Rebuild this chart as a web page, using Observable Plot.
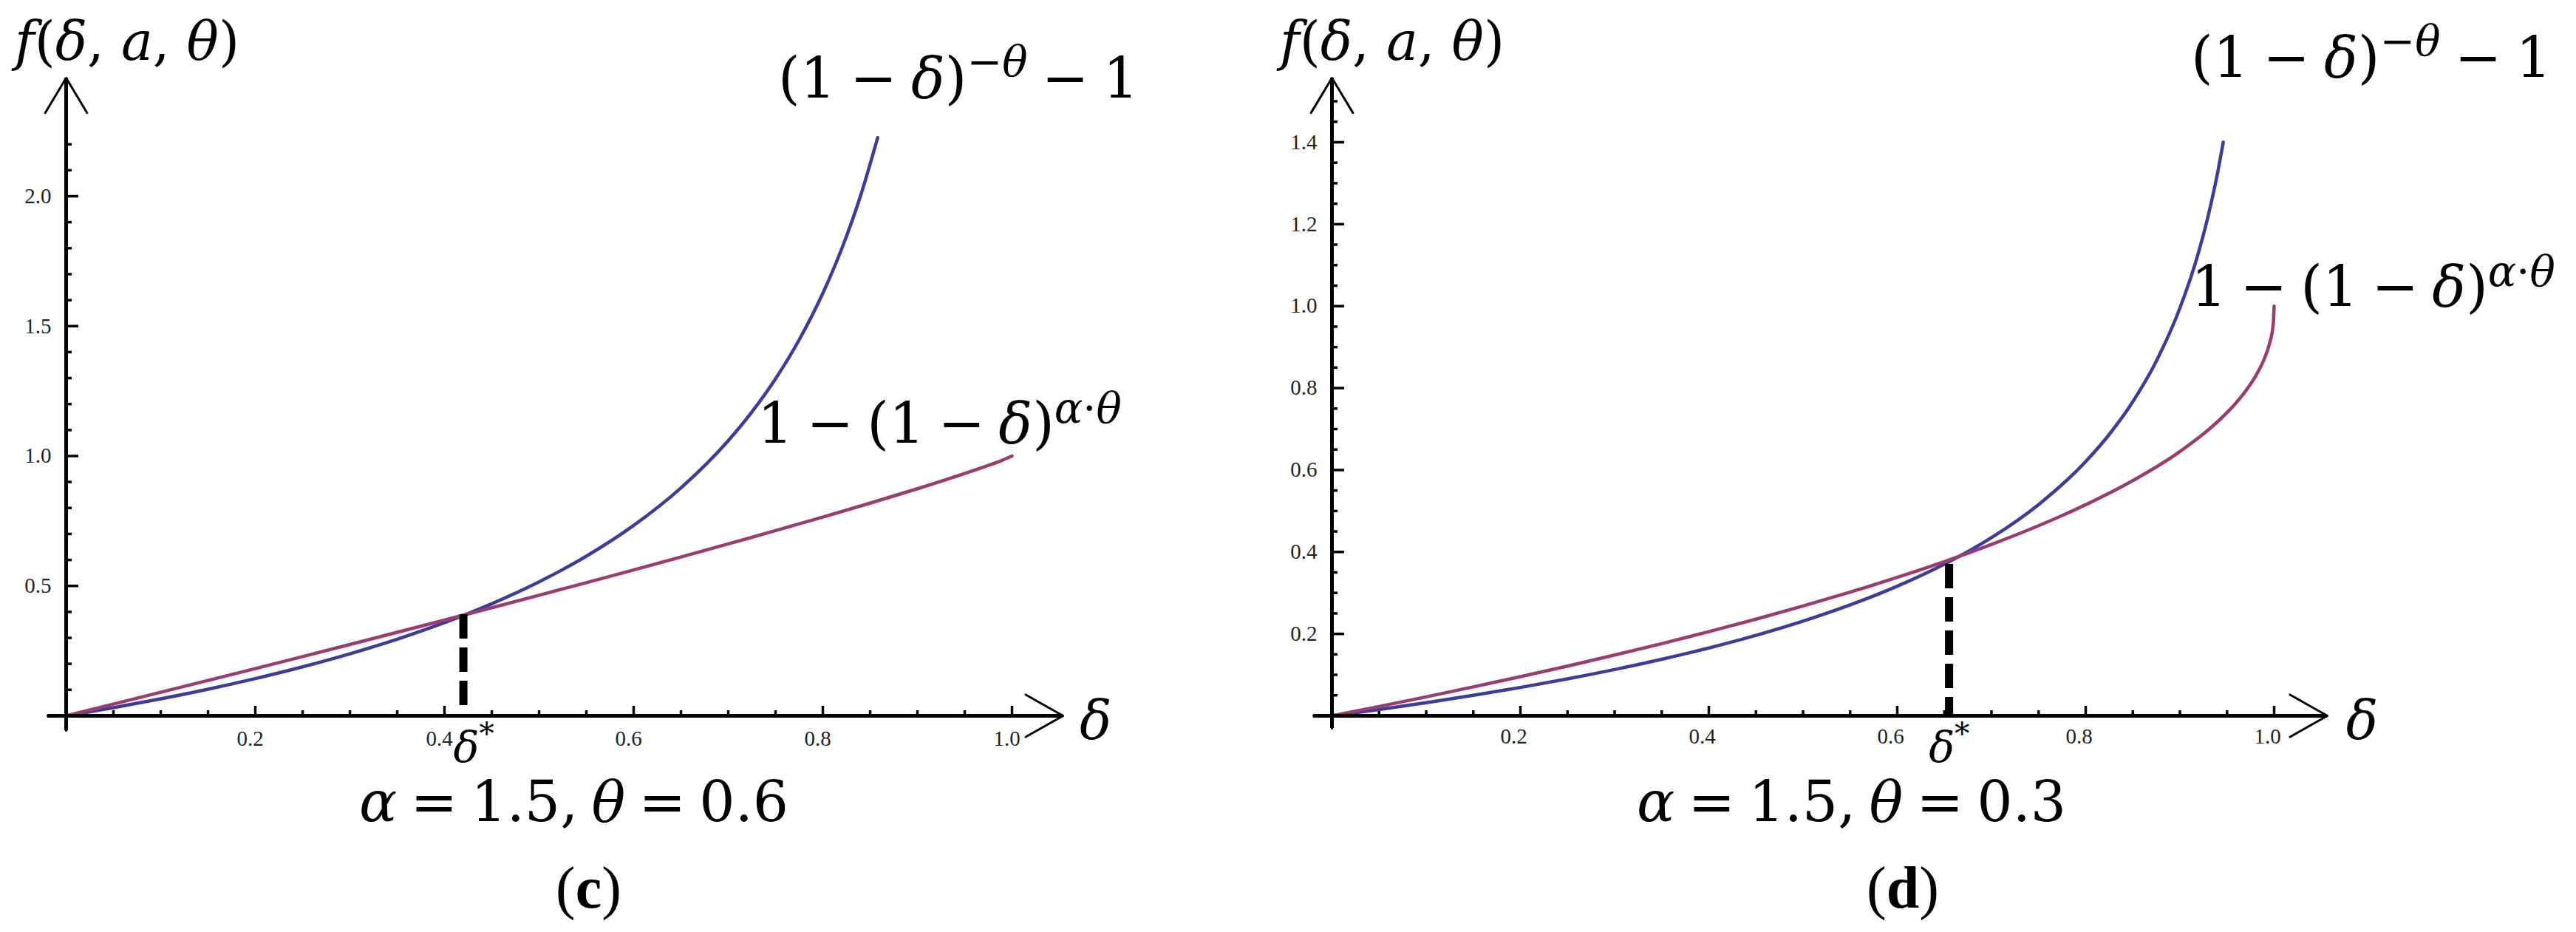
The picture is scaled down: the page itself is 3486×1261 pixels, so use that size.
<!DOCTYPE html>
<html>
<head>
<meta charset="utf-8">
<script src="https://cdn.jsdelivr.net/npm/d3@7"></script>
<script src="https://cdn.jsdelivr.net/npm/@observablehq/plot@0.6"></script>
<style>
  html, body { margin: 0; padding: 0; background: #fff; }
  #root { position: relative; width: 3486px; height: 1261px; overflow: hidden; background: #fff; }
  .panel { position: absolute; top: 0; }
  #overlay { position: absolute; left: 0; top: 0; pointer-events: none; }
</style>
</head>
<body>
<div id="root"></div>
<script>
// ---------------- data ----------------
// panel (c): alpha = 1.5, theta = 0.6
const cBlueDelta = [0, 0.05, 0.1, 0.15, 0.2, 0.25, 0.3, 0.35, 0.4, 0.45, 0.5, 0.55, 0.6, 0.65, 0.7, 0.725, 0.75, 0.775, 0.8, 0.82, 0.84, 0.858];
const cBlueValue = [0, 0.0313, 0.0653, 0.1024, 0.1433, 0.1884, 0.2386, 0.2949, 0.3587, 0.4315, 0.5157, 0.6146, 0.7328, 0.8774, 1.0593, 1.1697, 1.2974, 1.4474, 1.6265, 1.7979, 2.0028, 2.2257];
const cPurpleDelta = [0, 0.05, 0.1, 0.15, 0.2, 0.25, 0.3, 0.35, 0.4, 0.45, 0.5, 0.55, 0.6, 0.65, 0.7, 0.75, 0.8, 0.85, 0.9, 0.95, 0.975, 0.99, 1];
const cPurpleValue = [0, 0.0451, 0.0905, 0.1361, 0.1819, 0.2281, 0.2746, 0.3214, 0.3685, 0.4161, 0.4641, 0.5126, 0.5616, 0.6113, 0.6616, 0.7128, 0.7651, 0.8187, 0.8741, 0.9325, 0.9638, 0.9842, 1];
const cStar = 0.42;
const cStarTop = 0.39;

// panel (d): alpha = 1.5, theta = 0.3
const dBlueDelta = [0, 0.05, 0.1, 0.15, 0.2, 0.25, 0.3, 0.35, 0.4, 0.45, 0.5, 0.55, 0.6, 0.65, 0.7, 0.75, 0.8, 0.825, 0.85, 0.875, 0.9, 0.92, 0.93, 0.94, 0.946];
const dBlueValue = [0, 0.0155, 0.0321, 0.0500, 0.0692, 0.0901, 0.1129, 0.1380, 0.1656, 0.1964, 0.2311, 0.2707, 0.3164, 0.3702, 0.4350, 0.5157, 0.6207, 0.6869, 0.7667, 0.8661, 0.9953, 1.1334, 1.2206, 1.3257, 1.4004];
const dPurpleDelta = [0, 0.05, 0.1, 0.15, 0.2, 0.25, 0.3, 0.35, 0.4, 0.45, 0.5, 0.55, 0.6, 0.65, 0.7, 0.75, 0.8, 0.85, 0.9, 0.95, 0.96, 0.97, 0.98, 0.99, 0.995, 0.999, 1];
const dPurpleValue = [0, 0.0228, 0.0463, 0.0705, 0.0955, 0.1214, 0.1483, 0.1762, 0.2054, 0.2359, 0.2680, 0.3019, 0.3379, 0.3765, 0.4183, 0.4641, 0.5153, 0.5741, 0.6452, 0.7403, 0.7651, 0.7936, 0.8280, 0.8741, 0.9078, 0.9553, 1];
const dStar = 0.655;
const dStarTop = 0.37;

// ticks
const xMajor = [0.2, 0.4, 0.6, 0.8, 1.0];
const xMinor = [0.05, 0.1, 0.15, 0.25, 0.3, 0.35, 0.45, 0.5, 0.55, 0.65, 0.7, 0.75, 0.85, 0.9, 0.95];
const cYMajor = [0.5, 1.0, 1.5, 2.0];
const cYMinor = [0.1, 0.2, 0.3, 0.4, 0.6, 0.7, 0.8, 0.9, 1.1, 1.2, 1.3, 1.4, 1.6, 1.7, 1.8, 1.9, 2.1, 2.2];
const dYMajor = [0.2, 0.4, 0.6, 0.8, 1.0, 1.2, 1.4];
const dYMinor = [0.05, 0.1, 0.15, 0.25, 0.3, 0.35, 0.45, 0.5, 0.55, 0.65, 0.7, 0.75, 0.85, 0.9, 0.95, 1.05, 1.1, 1.15, 1.25, 1.3, 1.35, 1.45, 1.5];

const BLUE = "#3d3d99";
const PURPLE = "#993d71";
const SERIF = "Liberation Serif, serif";
const MATH = "DejaVu Serif, serif";

// ---------------- panels ----------------
function makePanel(cfg) {
  const blue = cfg.blueDelta.map((d, i) => ({d, v: cfg.blueValue[i]}));
  const purple = cfg.purpleDelta.map((d, i) => ({d, v: cfg.purpleValue[i]}));
  const W = 1743, H = 1040, MB = 72;
  const kx = (W - cfg.ml - cfg.mr);                 // px per x unit
  const ky = (H - MB - cfg.mt) / cfg.yDomain[1];    // px per y unit
  const fmt = d => d.toFixed(1);
  return Plot.plot({
    width: W, height: H,
    marginLeft: cfg.ml, marginRight: cfg.mr, marginTop: cfg.mt, marginBottom: MB,
    x: {domain: [0, 1], axis: null},
    y: {domain: cfg.yDomain, axis: null},
    style: {background: "transparent", overflow: "visible"},
    marks: [
      // ticks
      Plot.ruleX(xMinor, {x: d => d, y1: 0, y2: 7 / ky, stroke: "#000", strokeWidth: 3.5}),
      Plot.ruleX(xMajor, {x: d => d, y1: 0, y2: 13 / ky, stroke: "#000", strokeWidth: 3.5}),
      Plot.ruleY(cfg.yMinor, {y: d => d, x1: 0, x2: 8 / kx, stroke: "#000", strokeWidth: 3.5}),
      Plot.ruleY(cfg.yMajor, {y: d => d, x1: 0, x2: 17 / kx, stroke: "#000", strokeWidth: 3.5}),
      // curves
      Plot.line(blue, {x: "d", y: "v", stroke: BLUE, strokeWidth: 4.5, curve: "monotone-x"}),
      Plot.line(purple, {x: "d", y: "v", stroke: PURPLE, strokeWidth: 4.5, curve: "monotone-x"}),
      // delta* dashed rule
      Plot.ruleX([cfg.star], {x: d => d, y1: cfg.starTop, y2: 0, stroke: "#000", strokeWidth: 11, strokeDasharray: "33,12"}),
      // axes
      Plot.ruleY([0], {x1: -25 / kx, x2: cfg.xApex, stroke: "#000", strokeWidth: 5}),
      Plot.ruleX([0], {y1: -cfg.yBelow / ky, y2: cfg.yApex, stroke: "#000", strokeWidth: 5}),
      Plot.arrow([0], {x1: -25 / kx, y1: 0, x2: cfg.xApex, y2: 0, stroke: "#000", strokeWidth: 3, headLength: 29, headAngle: 59}),
      Plot.arrow([0], {x1: 0, y1: -cfg.yBelow / ky, x2: 0, y2: cfg.yApex, stroke: "#000", strokeWidth: 3, headLength: 27.5, headAngle: 62}),
      // tick labels
      Plot.text(xMajor, {x: d => d, y: 0, text: fmt, dy: cfg.xLabDy, dx: cfg.xLabDx, fontSize: 29, fontFamily: SERIF, fill: "#222"}),
      Plot.text(cfg.yMajor, {x: 0, y: d => d, text: fmt, textAnchor: "end", dx: -20, fontSize: 29, fontFamily: SERIF, fill: "#222"}),
      // axis name delta
      Plot.text([cfg.xApex], {x: d => d, y: 0, text: () => "δ", dx: cfg.dlx, dy: 8, fontSize: 72, fontStyle: "italic", fontFamily: MATH, fill: "#000"})
    ]
  });
}

const root = document.getElementById("root");

const pc = makePanel({
  blueDelta: cBlueDelta, blueValue: cBlueValue, purpleDelta: cPurpleDelta, purpleValue: cPurpleValue,
  star: cStar, starTop: cStarTop, yDomain: [0, 2], yMajor: cYMajor, yMinor: cYMinor,
  ml: 89, mr: 374, mt: 265, xApex: 1.054, yApex: 2.455, yBelow: 20,
  xLabDy: 31, xLabDx: -7, dlx: 44
});
const pd = makePanel({
  blueDelta: dBlueDelta, blueValue: dBlueValue, purpleDelta: dPurpleDelta, purpleValue: dPurpleValue,
  star: dStar, starTop: dStarTop, yDomain: [0, 1.4], yMajor: dYMajor, yMinor: dYMinor,
  ml: 59, mr: 409, mt: 192, xApex: 1.0565, yApex: 1.557, yBelow: 17,
  xLabDy: 28, xLabDx: -9, dlx: 47
});

const wc = document.createElement("div"); wc.className = "panel"; wc.style.left = "0px"; wc.appendChild(pc);
const wd = document.createElement("div"); wd.className = "panel"; wd.style.left = "1743px"; wd.appendChild(pd);
root.appendChild(wc); root.appendChild(wd);

// ---------------- text annotations (formulas, captions) ----------------
const overlay = d3.select(root).append("svg").attr("id", "overlay")
  .attr("width", 3486).attr("height", 1261);

function mathLabel(x, y, size, parts, opts = {}) {
  const t = overlay.append("text").attr("x", x).attr("y", y)
    .attr("font-size", size).attr("font-family", opts.font || MATH).attr("fill", "#000");
  if (opts.ws) t.style("word-spacing", opts.ws + "px");
  if (opts.ls) t.style("letter-spacing", opts.ls + "px");
  const raise = opts.raise || 0;
  let cur = 0;
  for (const p of parts) {
    const [s, st] = typeof p === "string" ? [p, ""] : p;
    const sup = st.includes("^");
    const target = sup ? -raise : 0;
    const ts = t.append("tspan").text(s);
    if (target !== cur) { ts.attr("dy", target - cur); cur = target; }
    if (st.includes("i")) ts.attr("font-style", "italic");
    if (st.includes("b")) ts.attr("font-weight", "bold");
    if (sup) ts.attr("font-size", size * (opts.supScale || 0.75));
  }
  return t;
}

const yLabel = [["f", "i"], "(", ["δ", "i"], ", ", ["a", "i"], ", ", ["θ", "i"], ")"];
const blueLabel = ["(1 − ", ["δ", "i"], ")", ["−", "^"], ["θ", "i^"], " − 1"];
const purpleLabel = ["1 − (1 − ", ["δ", "i"], ")", ["α", "i^"], ["·", "^"], ["θ", "i^"]];
const starLabel = [["δ", "i"], ["*", "^"]];

// delta* labels positioned from the x scales
const cStarX = pc.scale("x").apply(cStar);
const dStarX = 1743 + pd.scale("x").apply(dStar);

// panel (c)
mathLabel(20, 81, 72, yLabel);
mathLabel(1053, 132, 76, blueLabel, {ws: -5, raise: 29});
mathLabel(1025, 599, 76, purpleLabel, {ws: -6, raise: 27});
mathLabel(cStarX - 13, 1031, 58, starLabel, {raise: 24, supScale: 0.7});
mathLabel(486, 1111, 76, [["α", "i"], " = 1.5, ", ["θ", "i"], " = 0.6"], {ws: -6});
mathLabel(752, 1228, 80, ["(", ["c", "b"], ")"], {font: SERIF});

// panel (d)
mathLabel(1732, 81, 72, yLabel);
mathLabel(2965, 104, 76, blueLabel, {ws: -5, raise: 29});
mathLabel(2965, 414, 76, purpleLabel, {ws: -6, raise: 27});
mathLabel(dStarX - 27, 1031, 58, starLabel, {raise: 24, supScale: 0.7});
mathLabel(2215, 1111, 76, [["α", "i"], " = 1.5, ", ["θ", "i"], " = 0.3"], {ws: -6});
mathLabel(2526, 1228, 80, ["(", ["d", "b"], ")"], {font: SERIF});
</script>
</body>
</html>
